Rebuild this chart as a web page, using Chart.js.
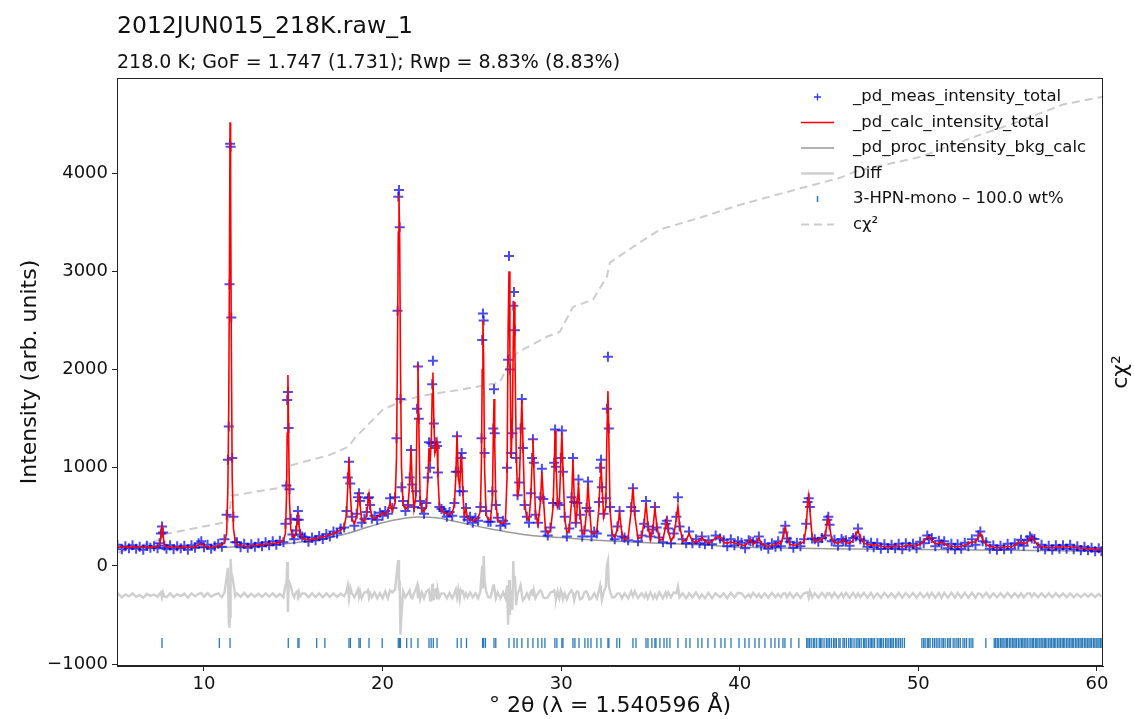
<!DOCTYPE html>
<html>
<head>
<meta charset="utf-8">
<script src="https://cdn.jsdelivr.net/npm/chart.js"></script>
<style>
  body { margin: 0; background: #fff; }
  canvas { display: block; }
</style>
</head>
<body>
<canvas id="myChart" width="1134" height="719"></canvas>
<script>
// 2θ positions of the profile points (degrees)
var twoTheta = [
  5.15, 5.4, 5.6, 5.8, 6.0, 6.2, 6.4, 6.6, 6.8, 7.0, 7.2, 7.4,
  7.52, 7.59, 7.65, 7.71, 7.78,
  7.9, 8.1, 8.3, 8.5, 8.7, 8.9, 9.1, 9.3, 9.5, 9.7, 9.85, 10.0, 10.2, 10.4, 10.6, 10.8, 11.0, 11.15,
  11.27, 11.34, 11.39, 11.43, 11.46, 11.49, 11.53, 11.58, 11.65, 11.75,
  11.85, 12.05, 12.25, 12.45, 12.65, 12.85, 13.05, 13.25, 13.45, 13.65, 13.85, 14.05, 14.25, 14.45,
  14.56, 14.62, 14.66, 14.70, 14.74, 14.79, 14.86, 14.95, 15.05, 15.15, 15.21, 15.26, 15.31, 15.38, 15.5,
  15.65, 15.85, 16.05, 16.25, 16.45, 16.65, 16.85, 17.05, 17.25, 17.45, 17.65, 17.85,
  17.98, 18.05, 18.12, 18.19, 18.28, 18.42, 18.55, 18.62, 18.68, 18.74, 18.83, 18.98, 19.11, 19.18, 19.24, 19.3, 19.4, 19.55, 19.7, 19.85,
  20.0, 20.15, 20.3, 20.42, 20.55, 20.7, 20.78, 20.84, 20.88, 20.92, 20.96, 21.0, 21.06, 21.15, 21.28,
  21.42, 21.52, 21.59, 21.66, 21.76, 21.86, 21.93, 21.98, 22.03, 22.1, 22.2, 22.32, 22.45, 22.53, 22.6, 22.66, 22.73, 22.78, 22.82, 22.87, 22.93, 23.0, 23.05, 23.1, 23.18, 23.3,
  23.45, 23.6, 23.75, 23.9, 24.02,
  24.1, 24.17, 24.24, 24.32, 24.38, 24.43, 24.5, 24.58, 24.67, 24.76, 24.9, 25.05, 25.2, 25.35, 25.48,
  25.54, 25.58, 25.62, 25.66, 25.71, 25.8, 25.92,
  26.05, 26.15, 26.2, 26.24, 26.28, 26.34, 26.45, 26.6, 26.75, 26.88, 26.97,
  27.03, 27.08, 27.13, 27.2, 27.27, 27.32, 27.36, 27.41, 27.48, 27.56, 27.65, 27.73, 27.8, 27.86, 27.95, 28.08, 28.2,
  28.3, 28.37, 28.42, 28.47, 28.56, 28.7, 28.84, 28.92, 29.0, 29.12,
  29.25, 29.4, 29.55, 29.61, 29.66, 29.71, 29.8, 29.9, 29.98, 30.04,
  30.1, 30.2, 30.32, 30.45, 30.58, 30.66, 30.73, 30.82, 30.9, 30.97,
  31.05, 31.18, 31.3, 31.42, 31.5, 31.58, 31.7, 31.85, 32.0, 32.12,
  32.18, 32.23, 32.28, 32.38, 32.5, 32.56, 32.62, 32.67, 32.74, 32.85,
  33.0, 33.15, 33.27, 33.4, 33.55, 33.75, 33.92, 34.02, 34.12, 34.3,
  34.5, 34.65, 34.75, 34.85, 35.0, 35.15, 35.25, 35.35, 35.5, 35.7,
  35.85, 35.92, 36.0, 36.15, 36.3, 36.45, 36.54, 36.63, 36.8, 37.0,
  37.16, 37.35, 37.55, 37.75, 37.88, 38.05, 38.25, 38.45, 38.65, 38.9,
  39.1, 39.3, 39.5, 39.7, 39.9,
  40.1, 40.3, 40.5, 40.6, 40.75, 40.95, 41.07, 41.2, 41.4, 41.6,
  41.8, 42.0, 42.15, 42.3, 42.45, 42.55, 42.65, 42.8, 43.0, 43.2,
  43.4, 43.6, 43.72, 43.8, 43.86, 43.93, 44.05, 44.2, 44.4, 44.6,
  44.8, 44.9, 44.96, 45.03, 45.15, 45.3, 45.5, 45.7, 45.8, 45.95,
  46.15, 46.35, 46.5, 46.62, 46.75, 46.95, 47.15, 47.35, 47.5, 47.7,
  47.9, 48.1, 48.3, 48.5, 48.7, 48.9, 49.1, 49.3, 49.5, 49.7,
  49.9, 50.1, 50.3, 50.5, 50.6, 50.75, 50.95, 51.15, 51.3, 51.45,
  51.65, 51.85, 52.05, 52.2, 52.4, 52.6, 52.8, 53.0, 53.2, 53.35,
  53.47, 53.6, 53.8, 54.0, 54.2, 54.4, 54.6, 54.8, 55.0, 55.2,
  55.4, 55.6, 55.75, 55.9, 56.1, 56.25, 56.35, 56.5, 56.7, 56.9,
  57.1, 57.3, 57.5, 57.7, 57.9, 58.1, 58.3, 58.5, 58.7, 58.9,
  59.1, 59.3, 59.5, 59.7, 59.9, 60.1, 60.25
];

// _pd_meas_intensity_total
var yObs = [
  215, 170, 200, 180, 210, 175, 195, 165, 205, 185, 200, 180,
  230, 330, 400, 340, 205,
  175, 210, 170, 200, 180, 205, 165, 210, 185, 230, 250, 190, 215, 175, 200, 225, 195, 270,
  520, 1080, 1420, 2870, 4300, 4270, 2530, 1100, 500, 240,
  240, 190, 225, 185, 220, 195, 230, 200, 240, 210, 250, 215, 255, 240,
  430, 820, 1690, 1772, 1405, 780, 480, 320, 270, 360, 470, 560, 470, 320, 300,
  290, 245, 290, 260, 305, 275, 325, 300, 350, 330, 380, 390,
  560, 900, 1060, 840, 500, 410, 530, 700, 740, 660, 440, 480, 550, 690, 700, 620, 480, 510, 470, 540,
  510, 560, 530, 690, 590, 700, 1300, 2600, 3760, 3830, 3450, 1700, 800, 660, 560,
  620, 900, 1180, 830, 600, 760, 1600, 2030, 1500, 660, 590, 530, 640, 900, 1260, 1000, 1250, 1850, 2090, 1450, 1200, 1260, 1220, 950, 600, 580,
  560, 500, 550, 510, 640,
  960, 1320, 960, 760, 1100, 1150, 760, 500, 590, 470, 500, 440, 490, 460, 600,
  1300, 2300, 2570, 2500, 1150, 560, 450,
  450, 760, 1400, 1800, 1350, 620, 490, 410, 460, 430, 1000,
  2100, 3157, 2000, 1150, 1350, 2650, 2790, 2400, 1100, 720, 850, 1400, 1700, 1200, 620, 500, 440,
  740, 1100, 1290, 1050, 520, 440, 700, 990, 680, 350,
  310, 390, 640, 1050, 1390, 1010, 640, 620, 1100, 1380,
  960, 500, 300, 380, 700, 1100, 650, 440, 640, 880,
  520, 300, 360, 590, 860, 560, 300, 350, 330, 650,
  1000, 1080, 800, 530, 690, 1600, 2130, 1400, 600, 310,
  270, 400, 560, 300, 290, 260, 600, 790, 560, 250,
  310, 430, 660, 400, 300, 370, 600, 390, 290, 240,
  430, 460, 380, 230, 330, 500, 700, 400, 270, 230,
  350, 230, 270, 230, 300, 220, 260, 220, 310, 280,
  260, 200, 270, 210, 250,
  235, 180, 260, 250, 245, 235, 300, 205, 225, 175,
  230, 195, 250, 200, 340, 410, 280, 245, 185, 235,
  200, 270, 430, 650, 690, 600, 280, 270, 245, 285,
  310, 470, 500, 420, 250, 265, 205, 275, 250, 260,
  205, 285, 300, 380, 270, 255, 195, 235, 190, 230,
  175, 220, 180, 215, 180, 225, 170, 230, 195, 225,
  180, 245, 230, 310, 275, 285, 200, 255, 220, 250,
  180, 225, 170, 220, 175, 235, 200, 270, 215, 310,
  350, 250, 240, 175, 210, 165, 205, 170, 225, 175,
  230, 215, 265, 205, 260, 300, 280, 275, 190, 215,
  170, 205, 165, 210, 175, 210, 175, 215, 170, 200,
  160, 195, 160, 185, 150, 180, 150
];

// _pd_calc_intensity_total
var yCalc = [
  193, 192, 192, 191, 191, 190, 190, 190, 190, 191, 192, 195,
  215, 300, 420, 310, 215,
  195, 190, 189, 188, 188, 188, 189, 190, 195, 215, 225, 205, 192, 190, 192, 205, 215, 240,
  330, 800, 1700, 3200, 4520, 3900, 2300, 900, 380, 250,
  220, 205, 200, 202, 205, 208, 212, 216, 220, 224, 228, 232, 240, 260,
  330, 700, 1350, 1945, 1300, 650, 380, 300, 290, 330, 430, 550, 430, 330, 280,
  270, 265, 270, 278, 285, 295, 305, 318, 330, 345, 365, 400,
  520, 800, 1090, 760, 480, 430, 500, 640, 753, 620, 470, 450, 520, 640, 723, 600, 500, 480, 500, 520,
  540, 520, 560, 640, 560, 640, 1100, 2300, 3400, 3780, 3300, 2100, 1000, 620, 580,
  600, 850, 1200, 860, 580, 700, 1500, 2060, 1450, 700, 560, 560, 600, 850, 1200, 1050, 1300, 1750, 1970, 1500, 1150, 1200, 1250, 900, 620, 560,
  540, 530, 525, 540, 620,
  900, 1340, 900, 800, 1050, 1120, 720, 520, 570, 490, 470, 460, 470, 490, 560,
  1100, 2000, 2500, 2100, 1000, 520, 470,
  470, 700, 1300, 1700, 1250, 650, 460, 440, 430, 460, 900,
  2400, 3000, 2200, 1100, 1500, 2300, 2690, 2200, 1200, 700, 800, 1300, 1690, 1250, 650, 480, 470,
  700, 1050, 1300, 1000, 550, 420, 650, 960, 700, 380,
  330, 360, 600, 1000, 1380, 1050, 600, 650, 1050, 1360,
  1000, 480, 340, 360, 650, 1080, 700, 420, 600, 850,
  560, 330, 330, 550, 850, 600, 330, 330, 360, 600,
  900, 1050, 850, 500, 600, 1300, 1780, 1300, 560, 330,
  290, 380, 540, 330, 270, 290, 560, 800, 520, 280,
  290, 450, 640, 430, 270, 400, 590, 420, 260, 270,
  400, 470, 350, 250, 300, 480, 610, 420, 250, 260,
  330, 250, 240, 260, 290, 250, 235, 250, 290, 300,
  240, 230, 245, 230, 225,
  215, 205, 250, 270, 220, 250, 285, 230, 205, 200,
  205, 215, 235, 220, 320, 390, 300, 220, 210, 215,
  225, 250, 400, 620, 710, 560, 300, 250, 270, 260,
  330, 450, 490, 400, 270, 240, 230, 255, 270, 235,
  230, 260, 320, 360, 290, 230, 220, 210, 215, 210,
  200, 195, 200, 195, 205, 200, 195, 205, 215, 200,
  205, 220, 250, 290, 295, 260, 225, 230, 245, 225,
  205, 200, 195, 195, 200, 210, 225, 245, 240, 290,
  335, 270, 215, 200, 190, 185, 185, 190, 200, 195,
  210, 235, 245, 225, 240, 280, 295, 255, 210, 195,
  190, 185, 185, 190, 195, 190, 195, 195, 190, 185,
  180, 180, 175, 170, 168, 165, 163
];

// _pd_proc_intensity_bkg_calc
var bkgTheta = [5.13, 8, 10, 12, 14, 16, 17, 18, 19, 20, 21, 22, 23, 24, 25, 26, 27, 28, 29, 30, 32, 34, 36, 38, 40, 42, 45, 50, 55, 60.34];
var yBkg = [190, 185, 187, 195, 215, 255, 285, 330, 385, 440, 478, 497, 490, 455, 415, 378, 345, 318, 300, 288, 262, 242, 228, 212, 192, 182, 175, 166, 158, 150];

// cumulative chi^2 (right axis, no ticks)
var chiTheta = [5.13, 7.54, 7.70, 11.35, 11.55, 14.55, 14.75, 17.05, 18.1, 18.45, 20.02, 21.25, 22.49, 24.33, 26.57, 26.97, 27.53, 29.20, 29.93, 30.66, 31.78, 32.56, 32.73, 34.02, 35.53, 37.77, 40.01, 42.25, 45.61, 46.56, 50.15, 53.17, 55.13, 58.10, 60.3];
var chiSq = [0.004, 0.033, 0.044, 0.072, 0.129, 0.148, 0.194, 0.218, 0.236, 0.255, 0.317, 0.338, 0.349, 0.360, 0.376, 0.410, 0.441, 0.476, 0.487, 0.541, 0.557, 0.607, 0.638, 0.672, 0.710, 0.736, 0.764, 0.788, 0.823, 0.838, 0.869, 0.913, 0.939, 0.983, 1.0];

// reflection positions of 3-HPN-mono
var reflTheta = [
  7.65, 10.86, 11.46, 14.72, 15.26, 15.32, 16.31, 16.77, 18.12, 18.2, 18.68, 18.75, 19.24, 19.98,
  20.88, 20.95, 21.0, 21.35, 21.6, 21.98, 22.6, 22.72, 22.84, 23.05, 24.18, 24.4, 24.7, 25.6, 25.66, 25.76,
  26.24, 26.34, 27.08, 27.36, 27.53, 27.8, 28.14, 28.42, 28.7, 28.92, 29.09, 29.65, 29.76, 30.04, 30.1,
  30.66, 30.77, 31.0, 31.33, 31.5, 31.67, 32.0, 32.23, 32.62, 32.67, 33.12, 33.27, 34.02, 34.19, 34.75,
  34.86, 35.08, 35.25, 35.31, 35.53, 35.76, 35.92, 36.09, 36.54, 36.99, 37.21, 37.66, 37.88, 38.22, 38.61,
  38.95, 39.17, 39.51, 39.96, 40.29, 40.52, 40.85, 41.08, 41.41, 41.75, 41.97, 42.19, 42.42, 42.53, 42.87, 43.31,
  43.75, 43.82, 43.9, 44.0, 44.12, 44.2, 44.31, 44.45, 44.52, 44.6, 44.72, 44.85, 44.94, 45.02, 45.13,
  45.25, 45.33, 45.41, 45.55, 45.62, 45.78, 45.86, 45.97, 46.1, 46.2, 46.28, 46.4, 46.52, 46.62, 46.7,
  46.8, 46.93, 47.0, 47.08, 47.2, 47.3, 47.38, 47.46, 47.55, 47.7, 47.8, 47.88, 47.95, 48.05, 48.17,
  48.25, 48.35, 48.45, 48.52, 48.6, 48.72, 48.8, 48.9, 49.0, 49.1, 49.22,
  50.2, 50.3, 50.38, 50.5, 50.58, 50.66, 50.8, 50.9, 51.0, 51.1, 51.2, 51.32, 51.4, 51.5, 51.63,
  51.72, 51.8, 51.95, 52.05, 52.16, 52.25, 52.35, 52.5, 52.6, 52.7, 52.85, 52.95, 53.05, 53.78,
  54.25, 54.33, 54.42, 54.5, 54.6, 54.68, 54.75, 54.85, 54.93, 55.0, 55.1, 55.18, 55.27, 55.35, 55.42,
  55.5, 55.6, 55.69, 55.78, 55.85, 55.93, 56.02, 56.1, 56.2, 56.3, 56.38, 56.45, 56.55, 56.63, 56.7,
  56.8, 56.88, 56.97, 57.05, 57.12, 57.2, 57.3, 57.38, 57.46, 57.55, 57.62, 57.7, 57.8, 57.88, 57.96,
  58.05, 58.12, 58.2, 58.3, 58.38, 58.46, 58.55, 58.62, 58.7, 58.8, 58.88, 58.96, 59.05, 59.12, 59.2,
  59.3, 59.38, 59.46, 59.55, 59.62, 59.7, 59.8, 59.88, 59.96, 60.05, 60.12, 60.2, 60.28
];
var reflLevel = -785;   // intensity at which the tick row sits
var diffOffset = -300;  // Diff curve is shifted below zero

var xTickValues = [10, 20, 30, 40, 50, 60];
var yTickValues = [-1000, 0, 1000, 2000, 3000, 4000];

var plotTitle = '2012JUN015_218K.raw_1';
var plotSubtitle = '218.0 K; GoF = 1.747 (1.731); Rwp = 8.83% (8.83%)';

if (twoTheta.length !== yObs.length || twoTheta.length !== yCalc.length) {
  throw new Error('length mismatch ' + twoTheta.length + ' ' + yObs.length + ' ' + yCalc.length);
}

function pts(xs, ys) {
  return xs.map(function (x, i) { return { x: x, y: ys[i] }; });
}

var diffData = twoTheta.map(function (x, i) { return { x: x, y: yObs[i] - yCalc[i] + diffOffset }; });
var reflData = reflTheta.map(function (x) { return { x: x, y: reflLevel }; });

Chart.defaults.font.family = '"DejaVu Sans", sans-serif';
Chart.defaults.color = '#111';

// legend drawn inside the plot, top right, like matplotlib
var insideLegend = {
  id: 'insideLegend',
  afterDraw: function (chart) {
    var ctx = chart.ctx;
    ctx.save();
    ctx.font = '16.5px "DejaVu Sans"';
    ctx.textBaseline = 'middle';
    ctx.fillStyle = '#111';
    chart.data.datasets.forEach(function (ds, i) {
      var y = 97 + i * 25.5;
      var x0 = 801, x1 = 834, xm = 817.5;
      ctx.save();
      if (ds.legendKind === 'marker') {
        ctx.strokeStyle = 'rgba(0,0,255,0.8)';
        ctx.lineWidth = 1.3;
        ctx.beginPath();
        ctx.moveTo(xm - 3.5, y); ctx.lineTo(xm + 3.5, y);
        ctx.moveTo(xm, y - 3.5); ctx.lineTo(xm, y + 3.5);
        ctx.stroke();
      } else if (ds.legendKind === 'tick') {
        ctx.strokeStyle = ds.borderColor;
        ctx.lineWidth = 1.5;
        ctx.beginPath();
        ctx.moveTo(xm, y - 3); ctx.lineTo(xm, y + 3);
        ctx.stroke();
      } else {
        ctx.strokeStyle = ds.borderColor;
        ctx.lineWidth = ds.borderWidth;
        if (ds.borderDash) ctx.setLineDash(ds.borderDash);
        ctx.beginPath();
        ctx.moveTo(x0, y); ctx.lineTo(x1, y);
        ctx.stroke();
      }
      ctx.restore();
      ctx.fillText(ds.label, 853, y);
    });
    ctx.restore();
  }
};

// titles, box and right-axis label
var frame = {
  id: 'frame',
  afterDraw: function (chart) {
    var ctx = chart.ctx, a = chart.chartArea;
    ctx.save();
    ctx.strokeStyle = '#222';
    ctx.lineWidth = 1;
    ctx.strokeRect(a.left + 0.5, a.top + 0.5, a.right - a.left - 1, a.bottom - a.top - 1);
    ctx.fillStyle = '#111';
    ctx.textBaseline = 'alphabetic';
    ctx.textAlign = 'left';
    ctx.font = '23.5px "DejaVu Sans"';
    ctx.fillText(plotTitle, a.left, 33);
    ctx.font = '19px "DejaVu Sans"';
    ctx.fillText(plotSubtitle, a.left, 68);
    ctx.translate(1121, (a.top + a.bottom) / 2);
    ctx.rotate(-Math.PI / 2);
    ctx.textAlign = 'center';
    ctx.textBaseline = 'middle';
    ctx.font = '22px "DejaVu Sans"';
    ctx.fillText('cχ²', 0, 0);
    ctx.restore();
  }
};

var ctx = document.getElementById('myChart').getContext('2d');
var myChart = new Chart(ctx, {
  type: 'line',
  data: {
    datasets: [
      {
        label: '_pd_meas_intensity_total',
        legendKind: 'marker',
        data: pts(twoTheta, yObs),
        showLine: false,
        pointStyle: 'cross',
        pointRadius: 5,
        pointBorderWidth: 2,
        pointBorderColor: 'rgba(0,0,230,0.7)',
        borderColor: 'rgba(0,0,230,0.7)',
        order: 2
      },
      {
        label: '_pd_calc_intensity_total',
        data: pts(twoTheta, yCalc),
        borderColor: '#ff0000',
        borderWidth: 1.6,
        pointRadius: 0,
        order: 1
      },
      {
        label: '_pd_proc_intensity_bkg_calc',
        data: pts(bkgTheta, yBkg),
        borderColor: '#9a9a9a',
        borderWidth: 1.5,
        pointRadius: 0,
        cubicInterpolationMode: 'monotone',
        order: 3
      },
      {
        label: 'Diff',
        data: diffData,
        borderColor: '#cfcfcf',
        borderWidth: 2.4,
        pointRadius: 0,
        order: 4
      },
      {
        label: '3-HPN-mono – 100.0 wt%',
        legendKind: 'tick',
        data: reflData,
        showLine: false,
        pointStyle: 'line',
        pointRotation: 90,
        pointRadius: 5,
        pointBorderWidth: 1.3,
        pointBorderColor: '#2a7ab8',
        borderColor: '#2a7ab8',
        order: 5
      },
      {
        label: 'cχ²',
        data: pts(chiTheta, chiSq),
        yAxisID: 'y2',
        borderColor: '#cccccc',
        borderWidth: 2,
        borderDash: [8, 5],
        pointRadius: 0,
        order: 6
      }
    ]
  },
  options: {
    responsive: false,
    animation: false,
    events: [],
    layout: { padding: { top: 78, right: 31, left: 0, bottom: 0 } },
    plugins: {
      legend: { display: false },
      tooltip: { enabled: false }
    },
    elements: { line: { tension: 0 } },
    scales: {
      x: {
        type: 'linear',
        min: 5.13,
        max: 60.34,
        afterFit: function (s) { s.height = 53; },
        afterBuildTicks: function (s) { s.ticks = xTickValues.map(function (v) { return { value: v }; }); },
        ticks: {
          font: { size: 18 },
          color: '#111',
          padding: 3,
          maxRotation: 0,
          callback: function (v) { return String(v); }
        },
        grid: { display: true, drawOnChartArea: false, drawTicks: true, tickLength: 5, color: '#222' },
        border: { display: true, color: '#222' },
        title: {
          display: true,
          text: '° 2θ (λ = 1.540596 Å)',
          font: { size: 22 },
          color: '#111',
          padding: { top: 0, bottom: 0 }
        }
      },
      y: {
        min: -1020,
        max: 4970,
        afterFit: function (s) { s.width = 117; },
        afterBuildTicks: function (s) { s.ticks = yTickValues.map(function (v) { return { value: v }; }); },
        ticks: {
          font: { size: 18 },
          color: '#111',
          padding: 4,
          callback: function (v) { return v < 0 ? '\u2212' + Math.abs(v) : String(v); }
        },
        grid: { display: true, drawOnChartArea: false, drawTicks: true, tickLength: 5, color: '#222' },
        border: { display: true, color: '#222' },
        title: {
          display: true,
          text: 'Intensity (arb. units)',
          font: { size: 22 },
          color: '#111',
          padding: { top: 17, bottom: 0 }
        }
      },
      y2: {
        display: false,
        position: 'right',
        min: -0.243,
        max: 1.041
      }
    }
  },
  plugins: [insideLegend, frame]
});
</script>
</body>
</html>
